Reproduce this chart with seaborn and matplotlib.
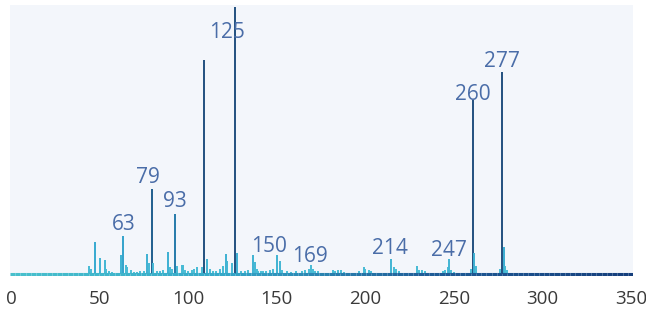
import matplotlib
matplotlib.use("Agg")
import matplotlib.pyplot as plt
import numpy as np
import seaborn as sns

# m/z and relative intensity (%) of the stick spectrum
mz = [44.0, 45.0, 47.2, 50.5, 52.9, 53.8, 55.1, 57.0, 61.9, 63.0, 64.7, 65.7,
      67.5, 69.2, 71.0, 73.0, 75.0, 76.9, 78.1, 79.4, 80.3, 82.6, 84.0, 86.0,
      88.8, 89.7, 91.0, 92.7, 93.9, 96.3, 97.2, 98.5, 100.0, 102.0, 103.5,
      105.1, 107.9, 109.2, 110.8, 112.1, 114.0, 116.0, 118.0, 119.5, 121.1,
      122.0, 124.9, 126.2, 127.7, 130.0, 132.0, 134.0, 136.5, 137.6, 139.0,
      139.7, 141.0, 142.5, 144.0, 146.0, 148.0, 150.2, 151.7, 153.0, 155.9,
      158.0, 161.0, 164.3, 166.2, 168.0, 169.4, 170.5, 171.8, 173.0, 181.8,
      183.1, 184.6, 186.3, 188.0, 196.2, 199.0, 200.0, 201.9, 203.0, 214.7,
      215.9, 217.3, 219.0, 229.0, 230.3, 232.0, 233.5, 244.0, 245.1, 246.4,
      247.4, 248.3, 250.0, 259.5, 260.7, 261.5, 262.5, 276.0, 277.1, 278.0,
      279.0, 280.0]
intensity = [3.0, 2.0, 12.0, 6.0, 5.3, 2.0, 1.0, 0.8, 7.0, 14.3, 3.4, 2.5,
             1.5, 0.8, 0.8, 1.0, 1.2, 7.5, 4.0, 32.0, 4.0, 1.0, 1.0, 1.5,
             8.4, 2.7, 2.0, 22.6, 3.0, 3.4, 3.4, 1.5, 1.0, 1.5, 2.0,
             2.5, 2.5, 80.0, 5.5, 2.0, 1.2, 1.0, 2.0, 3.0, 7.5,
             5.0, 4.0, 100.0, 8.0, 1.2, 1.0, 1.5, 7.0, 4.5, 2.0,
             1.0, 1.0, 1.0, 1.0, 1.5, 2.0, 7.0, 5.0, 1.5, 1.0,
             0.8, 1.0, 1.0, 1.5, 2.0, 3.4, 2.0, 1.0, 1.0, 1.5,
             1.0, 1.5, 1.5, 0.8, 1.0, 2.5, 2.0, 1.5, 1.0, 5.6,
             2.5, 2.0, 1.0, 3.0, 1.5, 1.5, 1.0, 1.0, 1.5, 2.5,
             5.5, 1.5, 0.8, 2.0, 65.0, 8.0, 3.0, 2.0, 75.6, 10.0,
             3.0, 1.5]

# peak annotations: text and where it sits
label_text = ["63", "79", "93", "125", "150", "169", "214", "247", "260", "277"]
label_x = [63.5, 77.1, 92.6, 122.2, 145.6, 169.0, 214.1, 247.1, 260.9, 277.2]
label_y = [16.5, 34.2, 24.9, 88.3, 8.1, 4.4, 7.4, 6.7, 65.2, 77.4]

xticks = [0, 50, 100, 150, 200, 250, 300, 350]

sns.set_theme(style="white")
plt.rcParams["font.family"] = ["Open Sans", "DejaVu Sans"]

fig = plt.figure(figsize=(6.46, 3.10), dpi=100)
ax = fig.add_axes([10 / 646, 34 / 310, 623 / 646, 271 / 310])
ax.set_facecolor("#f3f6fb")

cmap = sns.blend_palette(["#4cc0d6", "#33a6cf", "#1f6799", "#22507f"], as_cmap=True)
heights = np.array(intensity)
colors = cmap(np.clip(heights / 40.0, 0, 1))
ax.vlines(mz, 0, intensity, colors=colors, linewidth=1.4, zorder=3)

# baseline with a cyan -> navy gradient
xs = np.linspace(-0.5, 351, 120)
base_cmap = sns.blend_palette(["#48c0cc", "#35a9c9", "#1f5d98", "#163f7c"], as_cmap=True)
for i in range(len(xs) - 1):
    ax.plot(xs[i:i + 2], [0, 0], color=base_cmap(i / (len(xs) - 2)),
            linewidth=2.2, solid_capstyle="butt", zorder=4)

for t, x, y in zip(label_text, label_x, label_y):
    ax.text(x, y, t, ha="center", va="baseline", fontsize=15,
            color="#4a6da8", zorder=5)

ax.set_xlim(-0.5, 351)
ax.set_ylim(-0.75, 100.7)
ax.set_xticks(xticks)
ax.set_xticklabels([str(v) for v in xticks])
ax.set_yticks([])
ax.tick_params(axis="x", length=0, pad=10, labelsize=13.5, labelcolor="#3a3a3a")
sns.despine(ax=ax, left=True, bottom=True)

fig.savefig("out.png", dpi=100, facecolor="white")
